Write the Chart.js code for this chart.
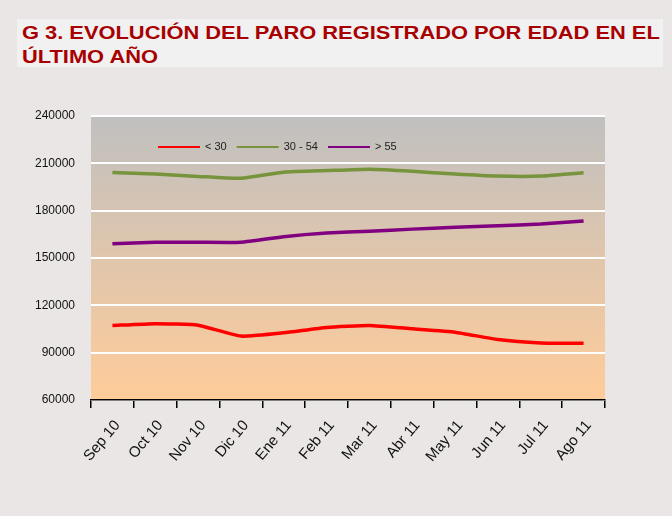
<!DOCTYPE html>
<html>
<head>
<meta charset="utf-8">
<script src="https://cdn.jsdelivr.net/npm/chart.js@4.4.0/dist/chart.umd.min.js"></script>
<style>
  html, body { margin: 0; padding: 0; background: #ebe6e6; }
  #wrap { position: relative; width: 672px; height: 516px; }
  #title {
    position: absolute; left: 17px; top: 19px; width: 646px; height: 48px;
    background: #f2f1f1;
  }
  #title span {
    position: absolute; left: 5px; top: 2px;
    color: #a80000; white-space: nowrap;
    font: bold 19px "Liberation Sans", Arial, sans-serif; line-height: 24px;
    transform: scaleX(1.15); transform-origin: 0 0;
  }
  canvas { position: absolute; left: 0; top: 0; }
</style>
</head>
<body>
<div id="wrap">
  <div id="title"><span>G 3. EVOLUCIÓN DEL PARO REGISTRADO POR EDAD EN EL<br>ÚLTIMO AÑO</span></div>
  <canvas id="paroChart" width="672" height="516"></canvas>
</div>
<script>
// Datos
const meses = ['Sep 10', 'Oct 10', 'Nov 10', 'Dic 10', 'Ene 11', 'Feb 11',
               'Mar 11', 'Abr 11', 'May 11', 'Jun 11', 'Jul 11', 'Ago 11'];
const menores30 = [107200, 108400, 107400, 100500, 102600, 106000,
                   107200, 105100, 103000, 98300, 96200, 96000];
const entre30y54 = [204200, 203200, 201700, 200500, 204400, 205400,
                    206300, 205000, 203200, 201900, 201900, 204000];
const mayores55 = [159000, 160000, 160000, 160000, 163500, 165800,
                   167000, 168300, 169500, 170500, 171500, 173500];
const etiquetas = ['< 30', '30 - 54', '> 55'];
const colores = ['#ff0000', '#77933c', '#800080'];

// fondo degradado del área de trazado
const fondoPlugin = {
  id: 'fondo',
  beforeDraw(chart) {
    const { ctx, chartArea: a } = chart;
    const g = ctx.createLinearGradient(0, a.top, 0, a.bottom);
    g.addColorStop(0, '#c0c0c0');
    g.addColorStop(1, '#ffcc99');
    ctx.save();
    ctx.fillStyle = g;
    ctx.fillRect(a.left, a.top, a.right - a.left, a.bottom - a.top);
    ctx.restore();
  }
};

// leyenda dentro del área de trazado
const leyendaPlugin = {
  id: 'leyendaInterna',
  afterDraw(chart) {
    const { ctx, chartArea: a } = chart;
    const y = a.top + 31;
    let x = a.left + 67;
    ctx.save();
    ctx.font = '11px "Liberation Sans", Arial, sans-serif';
    ctx.textBaseline = 'middle';
    chart.data.datasets.forEach(ds => {
      ctx.strokeStyle = ds.borderColor;
      ctx.lineWidth = 2;
      ctx.beginPath();
      ctx.moveTo(x, y);
      ctx.lineTo(x + 42, y);
      ctx.stroke();
      x += 47;
      ctx.fillStyle = '#222';
      ctx.fillText(ds.label, x, y);
      x += ctx.measureText(ds.label).width + 10;
    });
    ctx.restore();
  }
};

const series = [menores30, entre30y54, mayores55];

new Chart(document.getElementById('paroChart'), {
  type: 'line',
  data: {
    labels: meses,
    datasets: series.map((d, i) => ({
      label: etiquetas[i],
      data: d,
      borderColor: colores[i],
      backgroundColor: colores[i],
      borderWidth: 3.5,
      pointRadius: 0,
      tension: 0.15,
      fill: false
    }))
  },
  options: {
    responsive: false,
    animation: false,
    layout: { padding: { top: 116, right: 67, left: 0, bottom: 0 } },
    plugins: {
      legend: { display: false },
      tooltip: { enabled: false }
    },
    scales: {
      x: {
        offset: true,
        grid: {
          display: true,
          drawOnChartArea: false,
          drawTicks: true,
          tickLength: 8,
          color: '#000',
          lineWidth: 1.5,
          offset: true
        },
        border: { display: true, color: '#000', width: 1.5 },
        ticks: {
          maxRotation: 50,
          minRotation: 50,
          padding: 9,
          labelOffset: 5,
          color: '#111',
          font: { family: '"Liberation Sans", Arial, sans-serif', size: 15 }
        },
        afterFit(scale) { scale.height = 116; }
      },
      y: {
        min: 60000,
        max: 240000,
        grid: {
          color: '#ffffff',
          lineWidth: 2,
          drawTicks: false
        },
        border: { display: false },
        ticks: {
          stepSize: 30000,
          padding: 16,
          color: '#111',
          font: { family: '"Liberation Sans", Arial, sans-serif', size: 12 },
          callback: v => String(v)
        },
        afterFit(scale) { scale.width = 91; }
      }
    }
  },
  plugins: [fondoPlugin, leyendaPlugin]
});
</script>
</body>
</html>
